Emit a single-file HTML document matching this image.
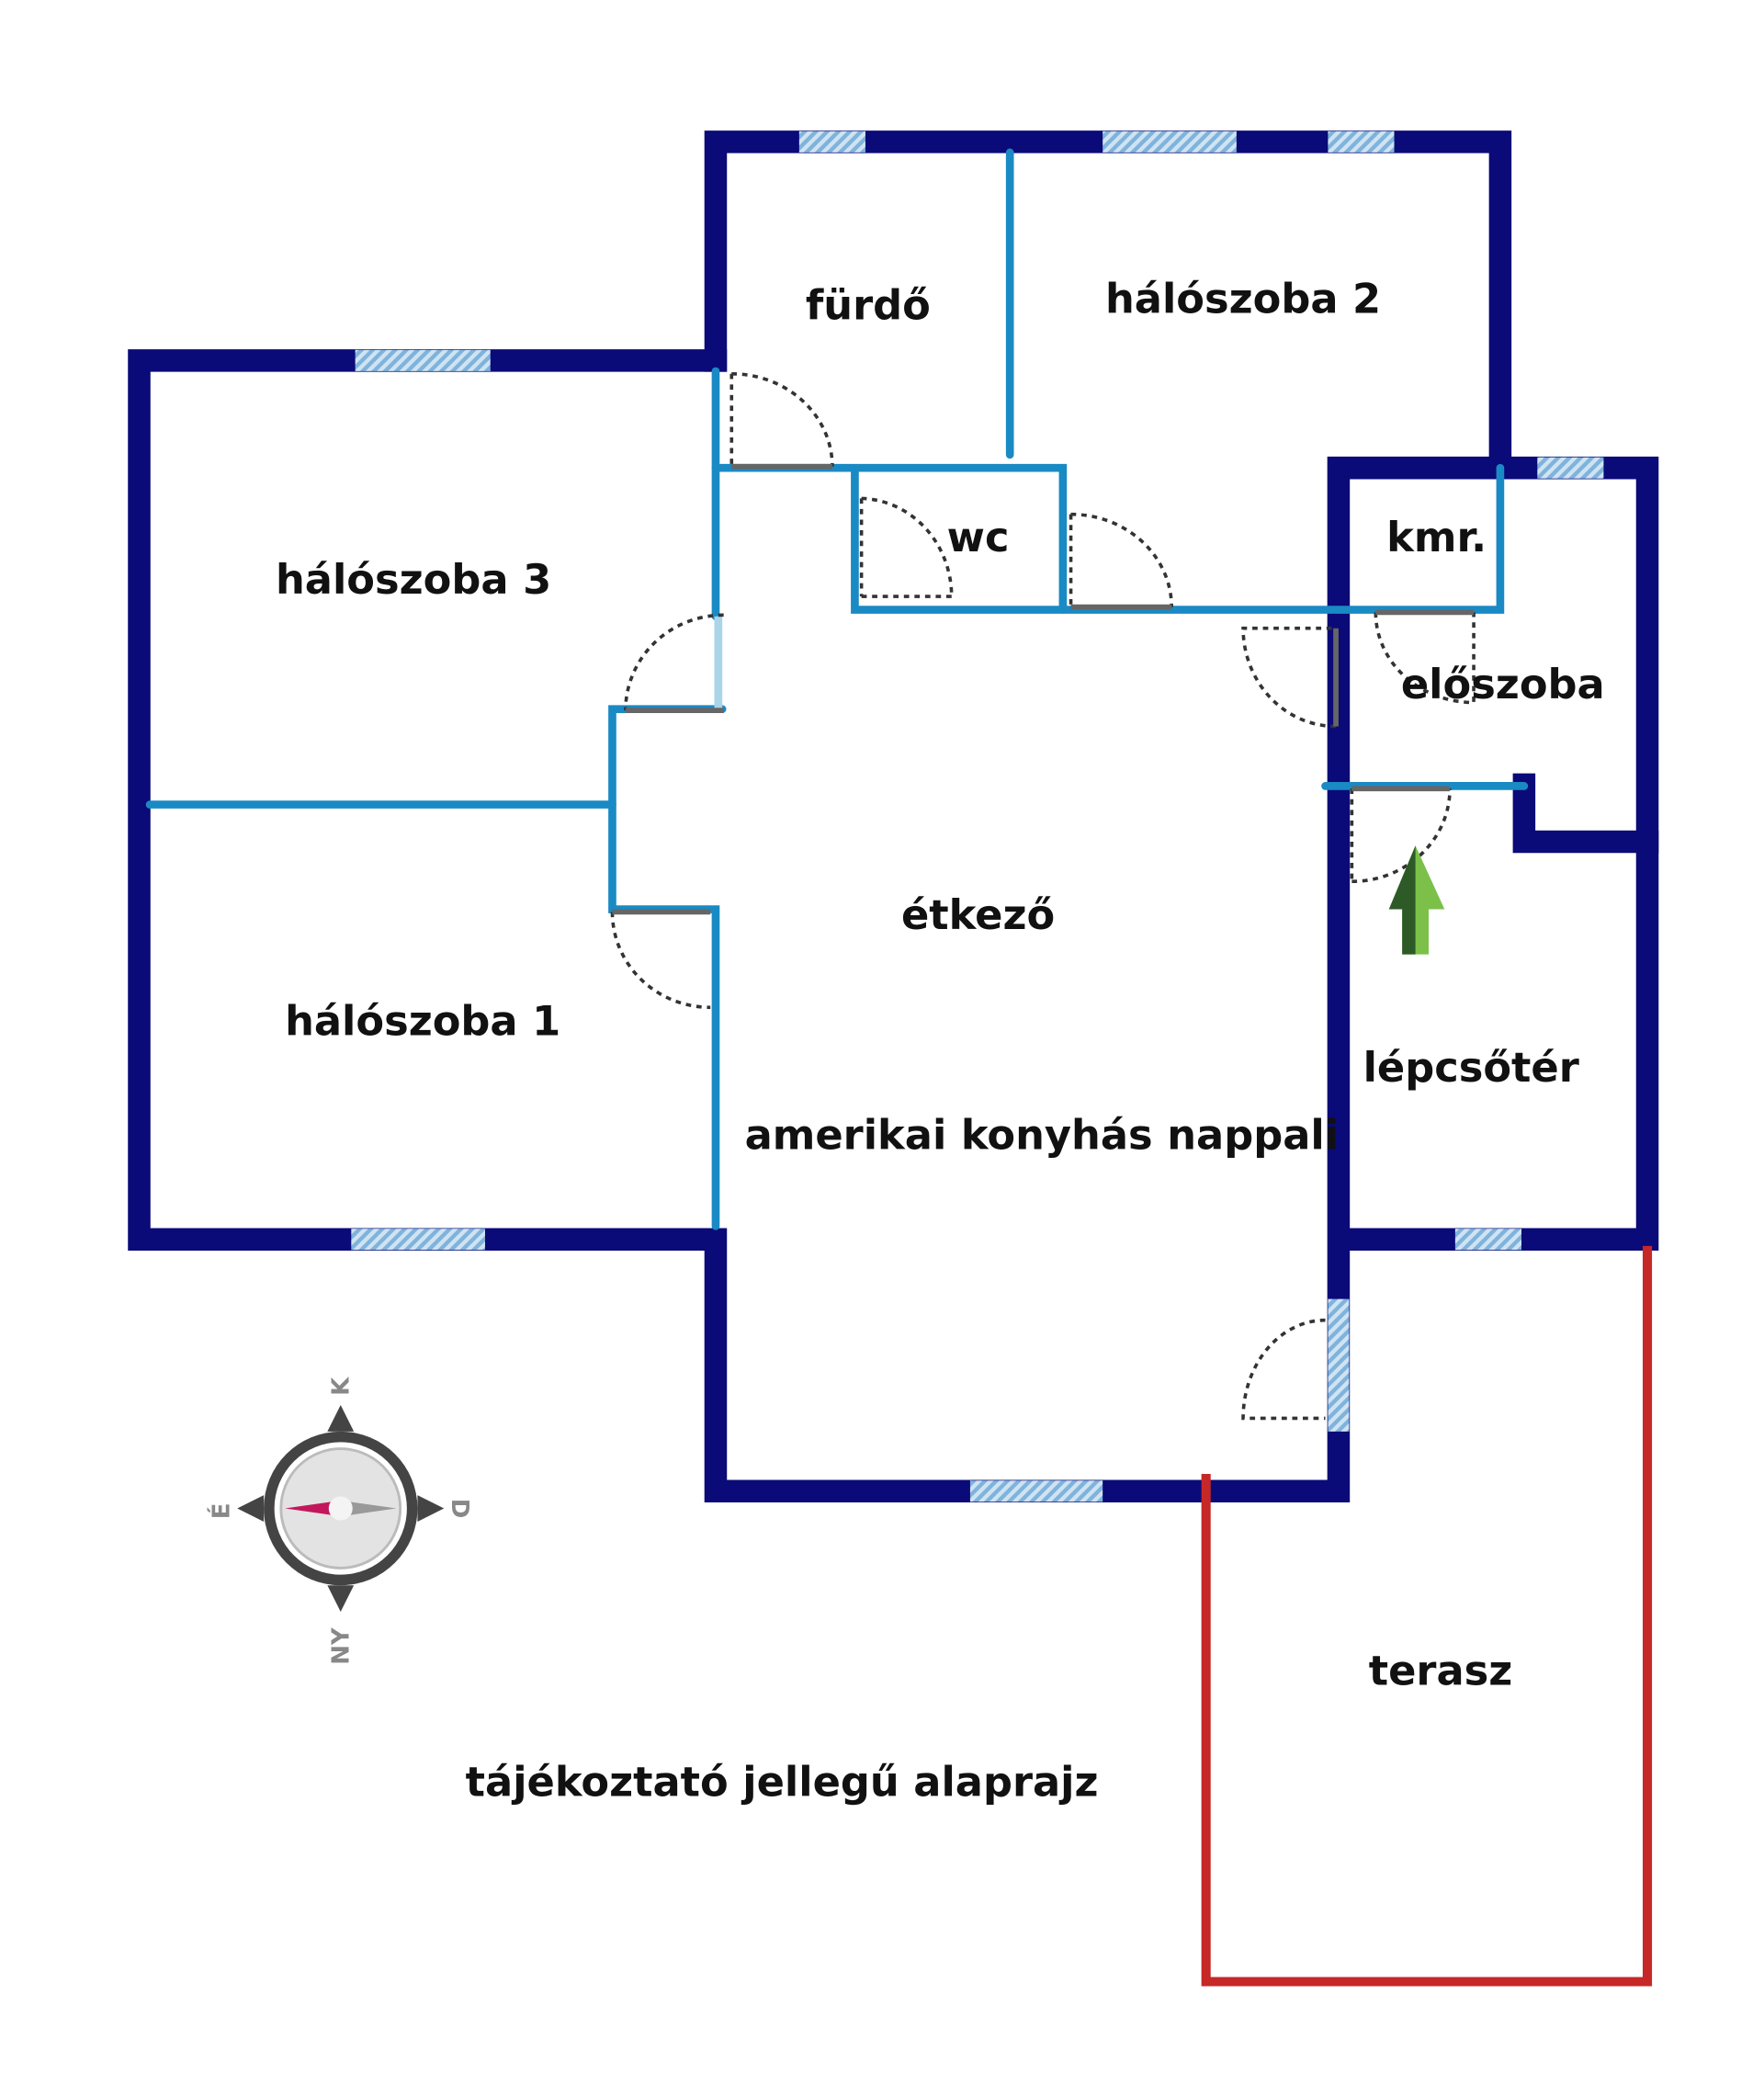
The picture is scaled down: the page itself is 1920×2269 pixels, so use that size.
<!DOCTYPE html>
<html><head><meta charset="utf-8"><style>html,body{margin:0;padding:0;background:#fff}svg{display:block}</style></head><body>
<svg width="1920" height="2269" viewBox="0 0 1331 1573" xmlns="http://www.w3.org/2000/svg">
<defs>
<pattern id="h" width="6" height="6" patternUnits="userSpaceOnUse" patternTransform="rotate(45)">
<rect width="6" height="6" fill="#cfe3f2"/><rect width="3" height="6" fill="#7fb3dc"/></pattern>
</defs>
<g fill="none" stroke="#0a0a78" stroke-width="17" stroke-linecap="square">
<polyline points="540,272 540,107 1132,107 1132,353"/>
<polyline points="540,272 105,272 105,935 540,935 540,1125 1010,1125 1010,353 1243,353 1243,935 1010,935"/>
<polyline points="1150,592 1150,635 1243,635"/>
</g>
<g fill="url(#h)">
<rect x="603" y="99" width="50" height="16"/><rect x="832" y="99" width="101" height="16"/><rect x="1002" y="99" width="50" height="16"/>
<rect x="268" y="264" width="102" height="16"/><rect x="265" y="927" width="101" height="16"/>
<rect x="732" y="1117" width="100" height="16"/><rect x="1160" y="345" width="50" height="16"/>
<rect x="1098" y="927" width="50" height="16"/><rect x="1002" y="980" width="16" height="100"/>
</g>
<g fill="none" stroke="#1a8ac4" stroke-width="6" stroke-linecap="round">
<line x1="762" y1="115" x2="762" y2="343"/>
<polyline points="540,280 540,465"/>
<polyline points="545,535 462,535 462,686 540,686 540,925"/>
<line x1="113" y1="607" x2="462" y2="607"/>
<polyline points="540,353 802,353 802,460"/>
<polyline points="645,353 645,460 1010,460"/>
<polyline points="1132,353 1132,460 1010,460"/>
<line x1="1000" y1="593" x2="1150" y2="593"/>
</g>
<line x1="542" y1="465" x2="542" y2="535" stroke="#a9d4ea" stroke-width="6"/>
<g fill="none" stroke="#333" stroke-width="2.5" stroke-dasharray="4,4">
<path d="M552,282 A76,70 0 0 1 628,352"/>
<path d="M650,376 A70,74 0 0 1 718,450"/>
<path d="M808,388 A76,70 0 0 1 884,458"/>
<path d="M546,464 A74,72 0 0 0 472,536"/>
<path d="M462,688 A74,72 0 0 0 536,760"/>
<path d="M1008,548 A70,74 0 0 1 938,474 L1008,474"/>
<path d="M1038,462 A74,68 0 0 0 1112,530 L1112,462"/>
<path d="M1020,665 A74,70 0 0 0 1094,595"/>
<path d="M1000,996 A62,74 0 0 0 938,1070 L1000,1070"/>
<line x1="552" y1="282" x2="552" y2="352"/><line x1="650" y1="376" x2="650" y2="450"/><line x1="650" y1="450" x2="718" y2="450"/><line x1="808" y1="388" x2="808" y2="458"/><line x1="1020" y1="595" x2="1020" y2="665"/>
</g>
<g stroke="#666" stroke-width="4">
<line x1="552" y1="352" x2="628" y2="352"/><line x1="808" y1="458" x2="884" y2="458"/><line x1="472" y1="536" x2="546" y2="536"/><line x1="462" y1="688" x2="536" y2="688"/><line x1="1008" y1="474" x2="1008" y2="548"/><line x1="1038" y1="462" x2="1112" y2="462"/><line x1="1020" y1="595" x2="1094" y2="595"/>
</g>
<polyline points="910,1112 910,1495 1243,1495 1243,940" fill="none" stroke="#c62828" stroke-width="7"/>
<polygon points="1068,638 1048,686 1058,686 1058,720 1078,720 1078,686 1090,686" fill="#7cc04a"/>
<polygon points="1068,638 1048,686 1058,686 1058,720 1068,720" fill="#2d5a27"/>
<g transform="translate(257,1138)">
<polygon points="0,-78 -10,-58 10,-58" fill="#444"/><polygon points="0,78 -10,58 10,58" fill="#444"/>
<polygon points="-78,0 -58,-10 -58,10" fill="#444"/><polygon points="78,0 58,-10 58,10" fill="#444"/>
<circle r="58" fill="#444"/><circle r="50" fill="#fff"/><circle r="45" fill="#e3e3e3" stroke="#bbb" stroke-width="2"/>
<polygon points="-42,0 0,-6 0,6" fill="#c2185b"/><polygon points="42,0 0,-6 0,6" fill="#999"/><circle r="9" fill="#f4f4f4"/>
<g font-family="DejaVu Sans, sans-serif" font-weight="bold" font-size="18" fill="#888" text-anchor="middle">
<text transform="translate(6,-92) rotate(-90)">K</text><text transform="translate(6,104) rotate(-90)">NY</text>
<text transform="translate(-84,2) rotate(-90)">É</text><text transform="translate(84,0) rotate(90)">D</text></g>
</g>
<g font-family="DejaVu Sans, Liberation Sans, sans-serif" font-weight="bold" font-size="31" fill="#111" text-anchor="middle">
<text x="655" y="241">fürdő</text><text x="938" y="236">hálószoba 2</text><text x="312" y="448">hálószoba 3</text>
<text x="738" y="416">wc</text><text x="1084" y="416">kmr.</text><text x="1134" y="527">előszoba</text>
<text x="738" y="701">étkező</text><text x="319" y="781">hálószoba 1</text><text x="1110" y="816">lépcsőtér</text>
<text x="786" y="867">amerikai konyhás nappali</text><text x="1087" y="1271">terasz</text>
<text x="590" y="1355">tájékoztató jellegű alaprajz</text>
</g>
</svg>
</body></html>
